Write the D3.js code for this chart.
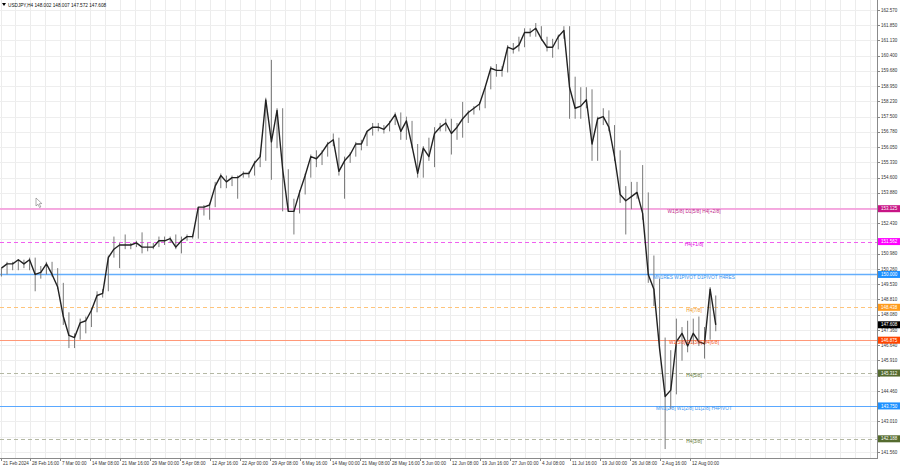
<!DOCTYPE html>
<html><head><meta charset="utf-8">
<script src="https://cdn.jsdelivr.net/npm/d3@7"></script>
<style>
body{margin:0;background:#fff;}
svg{display:block;font-family:"Liberation Sans",Arial,sans-serif;}
</style></head><body>
<svg id="c" width="900" height="468"></svg>
<script>
// ---- DATA (daily aggregates of the H4 chart) ----
const highs = [150.3,150.6,150.6,150.7,150.7,150.8,150.8,150.4,150.6,150.6,150.3,149.6,148.2,147.2,147.9,148.0,148.4,149.2,149.3,150.9,
151.8,151.5,151.9,151.5,151.6,152.0,151.5,151.5,151.8,151.8,151.8,151.9,151.8,151.9,151.9,153.2,153.3,153.4,154.4,154.8,
154.7,154.7,154.7,154.9,154.9,155.4,155.7,158.4,160.2,157.9,157.9,155.0,153.6,154.0,154.8,155.7,155.9,155.9,156.3,156.7,
156.5,155.6,155.8,156.3,156.4,156.8,157.2,157.2,157.1,157.3,157.7,157.7,157.5,157.3,156.2,156.1,156.5,157.0,157.2,157.4,
157.4,157.2,158.2,157.8,158.0,158.2,158.9,159.9,160.0,159.9,160.9,161.0,161.3,161.7,161.7,161.95,161.8,161.3,161.2,161.4,
161.8,161.8,159.4,158.9,158.9,158.8,157.5,157.9,157.8,157.1,155.9,154.2,154.4,154.4,155.2,153.9,150.9,149.8,147.0,146.4,
147.9,147.5,147.8,147.9,148.0,147.5,149.4,149.0];
const lows = [149.9,150.0,150.2,150.2,150.3,150.2,149.2,149.8,150.0,149.9,149.3,147.6,146.5,146.5,146.9,147.2,147.5,148.2,148.9,149.2,
150.8,150.3,151.2,151.2,151.3,151.0,151.1,151.2,151.3,151.4,151.5,151.2,151.0,151.6,151.7,151.7,152.8,152.6,153.2,154.1,
154.1,154.2,153.6,154.6,154.6,154.7,155.1,155.4,154.5,156.0,153.0,153.0,151.9,152.9,153.8,154.6,155.1,155.2,155.6,156.1,
154.7,153.6,155.3,155.6,155.9,156.1,156.6,156.8,156.7,156.8,157.1,156.4,156.4,156.0,154.6,154.6,155.4,155.1,156.8,156.8,
155.7,156.4,156.5,157.2,157.6,157.8,157.9,158.8,159.4,159.4,159.6,160.5,160.6,160.8,161.3,161.3,161.1,160.6,160.3,160.7,
161.2,157.4,157.4,157.4,157.9,155.4,155.4,157.1,156.8,155.4,153.4,151.9,153.1,153.6,152.6,149.6,148.5,146.4,141.7,143.6,
144.3,145.9,146.3,146.7,146.6,146.0,146.9,147.3];
const closes = [150.3,150.5,150.5,150.7,150.5,150.7,150.0,150.1,150.5,150.0,149.4,148.0,147.1,147.0,147.7,147.8,148.3,149.0,149.1,150.8,
151.2,151.4,151.4,151.4,151.5,151.3,151.3,151.3,151.6,151.6,151.7,151.3,151.6,151.8,151.8,153.2,153.2,153.3,154.2,154.7,
154.4,154.6,154.6,154.8,154.8,155.3,155.6,158.3,156.3,157.8,155.0,153.0,153.0,153.9,154.7,155.6,155.5,155.8,156.2,156.4,
154.9,155.4,155.7,156.2,156.2,156.8,157.0,157.0,156.9,157.2,157.6,156.8,157.3,156.1,154.8,156.0,155.6,156.7,157.0,157.2,
156.7,157.0,157.4,157.7,157.9,158.1,158.9,159.8,159.7,159.7,160.8,160.7,160.9,161.5,161.5,161.7,161.2,160.8,160.8,161.3,
161.6,158.9,157.9,158.0,158.3,156.2,157.4,157.5,157.0,155.6,153.8,153.5,153.7,153.9,152.9,150.0,149.3,146.5,144.2,144.5,
146.8,147.2,146.6,147.2,146.8,146.7,149.3,147.6];
const timeLabels = ["21 Feb 2024","28 Feb 16:00","7 Mar 00:00","14 Mar 08:00","21 Mar 16:00","29 Mar 00:00","5 Apr 08:00","12 Apr 16:00",
"22 Apr 00:00","29 Apr 08:00","6 May 16:00","14 May 00:00","21 May 08:00","28 May 16:00","5 Jun 00:00","12 Jun 08:00",
"19 Jun 16:00","27 Jun 00:00","4 Jul 08:00","11 Jul 16:00","19 Jul 00:00","26 Jul 08:00","2 Aug 16:00","12 Aug 00:00"];
const priceTicks = ["162.570","161.850","161.130","160.400","159.680","158.950","158.230","157.500","156.780","156.050",
"155.330","154.600","153.880","153.150","152.430","151.700","150.980","150.260","149.530","148.810","148.080","147.360",
"146.640","145.910","145.190","144.460","143.730","143.010","142.290","141.560"];
const levelValues = [153.125,151.5625,150.000,148.4375,146.875,145.3125,143.750,142.1875];
const levelTags = ["153.125","151.562","150.000","148.438","146.875","145.312","143.750","142.188"];
const levelTexts = ["W1[5/8] D1[5/8] H4[+2/8]","H4[+1/8]","MN1RES W1PIVOT D1PIVOT H4RES","H4[7/8]",
"W1[3/8] D1[3/8] H4[6/8]","H4[5/8]","MN1[2/8] W1[2/8] D1[2/8] H4PIVOT","H4[3/8]"];
const bidPrice = 147.608;
const titleText = "USDJPY,H4  148.002 148.007 147.572 147.608";
const barsPerDay = 6, barsPerLabel = 32;

// ---- STYLES ----
const levelStyles = [
 {line:"#f590d8", dash:null, box:"#c71585", text:"#c0268a", w:1.5, off:0},
 {line:"#f060f0", dash:"4,3", box:"#ff00ff", text:"#e000e0", w:1, off:0.5},
 {line:"#64aefc", dash:null, box:"#1e90ff", text:"#3a95f0", w:1.4, off:0.5},
 {line:"#ffc47a", dash:"4,3", box:"#ff9a1a", text:"#f0961e", w:1, off:0.5},
 {line:"#ff9878", dash:null, box:"#ff4500", text:"#f05020", w:1, off:0.5},
 {line:"#b4b8a4", dash:"4,3", box:"#556b2f", text:"#667a3a", w:1, off:0.5},
 {line:"#5aa8ff", dash:null, box:"#1e90ff", text:"#3a95f0", w:1.2, off:0.5},
 {line:"#b4b8a4", dash:"4,3", box:"#556b2f", text:"#667a3a", w:1, off:0.5}
];
const FS_AXIS = 4.5, FS_TIME = 4.6, FS_LEVEL = 4.8, FS_TITLE = 4.7;

const W = 900, H = 468, plotR = 877, plotB = 458;
const svg = d3.select("#c");
const x = d3.scaleLinear().domain([0, 935]).range([0.5, plotR]);
const y = d3.scaleLinear().domain([162.570, 141.560]).range([10, 452]);

// grid
const grid = svg.append("g").attr("class", "grid");
grid.selectAll("line.vg").data(d3.range(0, 935, 16)).join("line").attr("class", "vg")
  .attr("x1", d => Math.round(x(d)) + 0.5).attr("x2", d => Math.round(x(d)) + 0.5)
  .attr("y1", 0).attr("y2", plotB).attr("stroke", "#ececec").attr("stroke-width", 1);
grid.selectAll("line.hg").data(priceTicks).join("line").attr("class", "hg")
  .attr("x1", 0).attr("x2", plotR)
  .attr("y1", d => Math.round(y(+d)) + 0.5).attr("y2", d => Math.round(y(+d)) + 0.5)
  .attr("stroke", "#eeeeee").attr("stroke-width", 1);

// level lines
const lv = svg.append("g").attr("class", "levels");
lv.selectAll("line.lvl").data(levelValues).join("line").attr("class", "lvl")
  .attr("x1", 0).attr("x2", plotR)
  .attr("y1", (d, i) => Math.round(y(d)) + levelStyles[i].off)
  .attr("y2", (d, i) => Math.round(y(d)) + levelStyles[i].off)
  .style("stroke", (d, i) => levelStyles[i].line)
  .style("stroke-width", (d, i) => levelStyles[i].w)
  .style("stroke-dasharray", (d, i) => levelStyles[i].dash || "none");

// price series
const dayX = i => x(i * barsPerDay + 1);
const ps = svg.append("g").attr("class", "price");
ps.selectAll("line.wick").data(highs).join("line").attr("class", "wick")
  .attr("x1", (d, i) => dayX(i)).attr("x2", (d, i) => dayX(i))
  .attr("y1", d => y(d)).attr("y2", (d, i) => y(lows[i]))
  .attr("stroke", "#7a7a7a").attr("stroke-width", 1);
ps.append("path").datum(closes)
  .attr("d", d3.line().x((d, i) => dayX(i)).y(d => y(d)))
  .attr("fill", "none").attr("stroke", "#222").attr("stroke-width", 1.4)
  .attr("stroke-linejoin", "round");

// level texts
svg.append("g").selectAll("text").data(levelValues).join("text")
  .attr("x", 694).attr("y", d => y(d) + 4.2)
  .attr("text-anchor", "middle").attr("font-size", FS_LEVEL)
  .attr("fill", (d, i) => levelStyles[i].text).text((d, i) => levelTexts[i]);

// frame
svg.append("line").attr("x1", plotR + 0.5).attr("x2", plotR + 0.5).attr("y1", 0).attr("y2", plotB)
  .attr("stroke", "#8a8a8a");
svg.append("line").attr("x1", 0).attr("x2", plotR + 1).attr("y1", plotB + 0.5).attr("y2", plotB + 0.5)
  .attr("stroke", "#8a8a8a");

// right axis (tick labels hidden under a price tag are skipped, as in the terminal)
const tagYs = levelValues.concat([bidPrice]).map(v => y(v));
const ra = svg.append("g");
priceTicks.forEach(t => {
  const yy = y(+t);
  ra.append("line").attr("x1", plotR).attr("x2", plotR + 3).attr("y1", Math.round(yy) + 0.5).attr("y2", Math.round(yy) + 0.5)
    .attr("stroke", "#888");
  if (tagYs.some(ty => Math.abs(ty - yy) < 4.6)) return;
  ra.append("text").attr("x", plotR + 4).attr("y", yy + 1.6).attr("font-size", FS_AXIS).attr("fill", "#333").text(t);
});
function tag(v, label, fill) {
  const yy = y(v);
  ra.append("rect").attr("x", plotR + 1).attr("y", yy - 3.5).attr("width", 22).attr("height", 7)
    .attr("fill", fill);
  ra.append("text").attr("x", plotR + 4).attr("y", yy + 1.6).attr("font-size", FS_AXIS).attr("fill", "#fff").text(label);
}
levelValues.forEach((v, i) => tag(v, levelTags[i], levelStyles[i].box));
tag(bidPrice, bidPrice.toFixed(3), "#000");

// bottom axis
const ba = svg.append("g");
timeLabels.forEach((t, k) => {
  const xx = Math.round(x(k * barsPerLabel)) + 0.5;
  ba.append("line").attr("x1", xx).attr("x2", xx).attr("y1", plotB).attr("y2", plotB + 3).attr("stroke", "#888");
  ba.append("text").attr("x", xx + 1.5).attr("y", 464.5).attr("font-size", FS_TIME).attr("fill", "#333").text(t);
});

// title
svg.append("path").attr("d", "M2,3 L6,3 L4,6 Z").attr("fill", "#000");
svg.append("text").attr("x", 8).attr("y", 6.6).attr("font-size", FS_TITLE).attr("fill", "#111").text(titleText);

// mouse cursor
svg.append("path").attr("d", "M36,198 L36,206 L38,204.2 L39.6,207.6 L40.8,207 L39.3,203.7 L41.8,203.5 Z")
  .attr("fill", "#fff").attr("stroke", "#777").attr("stroke-width", 0.6);
</script>
</body></html>
